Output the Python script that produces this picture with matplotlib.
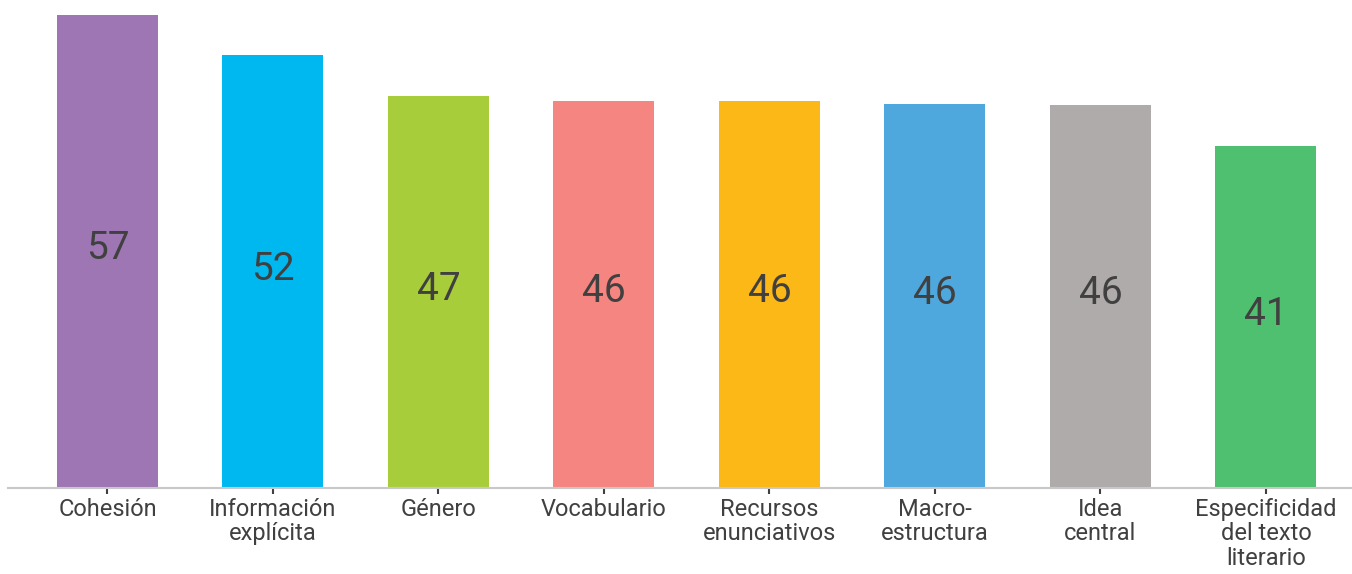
import matplotlib
matplotlib.use("Agg")
import matplotlib.pyplot as plt
import numpy as np

# datos
categorias = ["Cohesión", "Información\nexplícita", "Género", "Vocabulario",
              "Recursos\nenunciativos", "Macro-\nestructura", "Idea\ncentral",
              "Especificidad\ndel texto\nliterario"]
valores = [56.7, 51.8, 47.0, 46.4, 46.4, 46.0, 45.9, 41.0]
etiquetas = ["57", "52", "47", "46", "46", "46", "46", "41"]
colores = ["#9E76B4", "#00B8F0", "#A8CD3A", "#F58580", "#FCB817", "#4FA8DD", "#AFABAA", "#4FBF70"]

plt.rcParams["font.family"] = ["Roboto", "DejaVu Sans"]

fig = plt.figure(figsize=(13.52, 5.74), dpi=100)
ax = fig.add_axes([8/1352, 86/574, 1-8/1352, 488/574])
x = np.arange(len(categorias))
barras = ax.bar(x, valores, width=0.61, color=colores)
for b, v, t in zip(barras, valores, etiquetas):
    ax.text(b.get_x()+b.get_width()/2, v/2 + 0.3, t, ha="center", va="center",
            fontsize=28, color="#404040")

ax.set_xlim(-0.601, 7.52)
ax.set_ylim(0, 58.44)
ax.set_xticks(x)
ax.set_xticklabels(categorias, fontsize=17, color="#404040", linespacing=1.08)
ax.tick_params(axis="x", length=4, width=1.5, color="#404040", pad=3)
ax.set_yticks([])
for s in ["top", "right", "left"]:
    ax.spines[s].set_visible(False)
ax.spines["bottom"].set_color("#C8C8C8")
ax.spines["bottom"].set_linewidth(1.5)
fig.savefig("out.png", dpi=100)
